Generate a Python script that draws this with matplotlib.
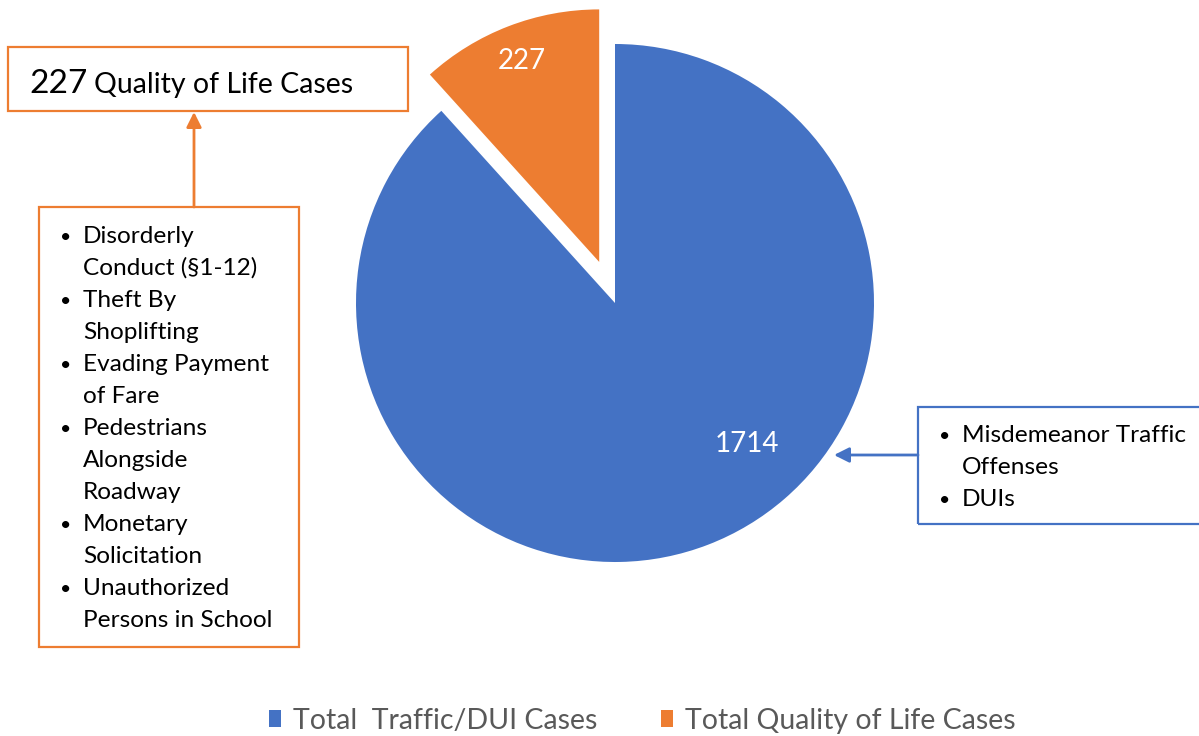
import matplotlib
matplotlib.use("Agg")
import matplotlib.pyplot as plt
from matplotlib.patches import Rectangle
import numpy as np

plt.rcParams['font.family'] = ['Lato', 'DejaVu Sans']

# data
categories = ['Total  Traffic/DUI Cases', 'Total Quality of Life Cases']
values = [1714, 227]
colors = ['#4472C4', '#ED7D31']

qol_items = [
    ['Disorderly', 'Conduct (§1-12)'],
    ['Theft By', 'Shoplifting'],
    ['Evading Payment', 'of Fare'],
    ['Pedestrians', 'Alongside', 'Roadway'],
    ['Monetary', 'Solicitation'],
    ['Unauthorized', 'Persons in School'],
]
traffic_items = [
    ['Misdemeanor Traffic', 'Offenses'],
    ['DUIs'],
]

W, H = 1199, 736
fig = plt.figure(figsize=(W / 100, H / 100), dpi=100)
ax = fig.add_axes([0, 0, 1, 1])


def Y(y):
    # pixel row (from top) -> axes y
    return H - y


# pie
cx, cy, r = 615, Y(303), 259
wedges, _ = ax.pie(values, colors=colors, startangle=90, counterclock=False,
                   center=(cx, cy), radius=r, explode=[0, 44],
                   wedgeprops=dict(linewidth=0))
wedges[1].set_radius(r * 0.975)

# pie() resets the limits, so set them afterwards
ax.set_xlim(0, W)
ax.set_ylim(0, H)
ax.set_aspect('equal')
ax.axis('off')

# data labels
tot = sum(values)
a_org = np.deg2rad(90 + 0.5 * 360 * values[1] / tot)
ox, oy = wedges[1].center
ax.text(ox + 0.83 * r * np.cos(a_org), oy + 0.83 * r * np.sin(a_org), str(values[1]),
        color='white', fontsize=20, ha='center', va='center')
a_blue = np.deg2rad(-47)
ax.text(cx + 0.746 * r * np.cos(a_blue), cy + 0.746 * r * np.sin(a_blue), str(values[0]),
        color='white', fontsize=20, ha='center', va='center')

# top callout box
ax.add_patch(Rectangle((8, Y(111)), 400, 64, fill=False, ec=colors[1], lw=1.6))
ax.text(29, Y(93), str(values[1]), fontsize=24, va='baseline', ha='left')
ax.text(94, Y(93), 'Quality of Life Cases', fontsize=20.5, va='baseline', ha='left')

# left list box
ax.add_patch(Rectangle((39, Y(647)), 260, 440, fill=False, ec=colors[1], lw=1.6))
ax.annotate('', xy=(194, Y(112)), xytext=(194, Y(207)),
            arrowprops=dict(arrowstyle='-|>,head_length=0.9,head_width=0.45',
                            color=colors[1], lw=2, shrinkA=0, shrinkB=0))
row = 0
for item in qol_items:
    for k, line in enumerate(item):
        yb = Y(243 + 32 * row)
        if k == 0:
            ax.text(60, yb, '•', fontsize=14, va='baseline', ha='left')
        ax.text(83, yb, line, fontsize=17.6, va='baseline', ha='left')
        row += 1

# right list box
ax.add_patch(Rectangle((918, Y(524)), 300, 117, fill=False, ec=colors[0], lw=1.6,
                       clip_on=False))
ax.annotate('', xy=(834, Y(455)), xytext=(918, Y(455)),
            arrowprops=dict(arrowstyle='-|>,head_length=0.9,head_width=0.45',
                            color=colors[0], lw=2, shrinkA=0, shrinkB=0))
row = 0
for item in traffic_items:
    for k, line in enumerate(item):
        yb = Y(442 + 32 * row)
        if k == 0:
            ax.text(939, yb, '•', fontsize=14, va='baseline', ha='left')
        ax.text(962, yb, line, fontsize=17.6, va='baseline', ha='left')
        row += 1

# legend
leg = ax.legend(wedges, categories, loc='center', bbox_to_anchor=(0.5355, 0.021),
                ncol=2, frameon=False, fontsize=20.5, handlelength=0.42, handleheight=0.5,
                handletextpad=0.42, columnspacing=2.25, borderaxespad=0)
for t in leg.get_texts():
    t.set_color('#595959')

fig.savefig('out.png', dpi=100)
